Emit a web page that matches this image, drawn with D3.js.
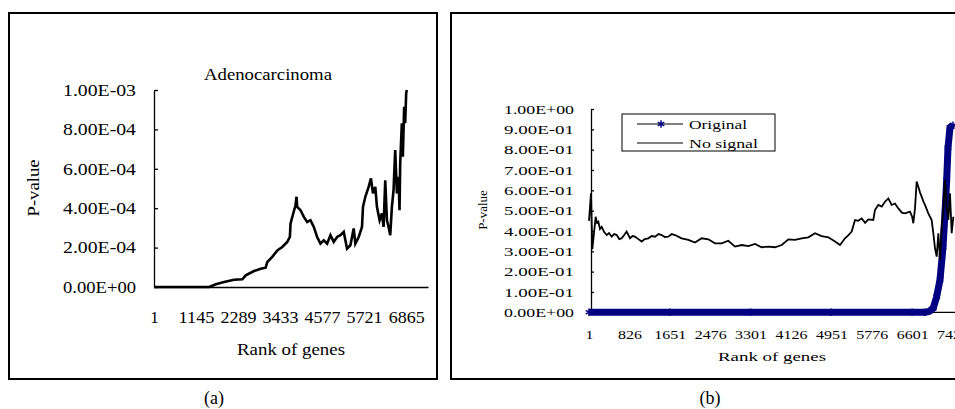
<!DOCTYPE html>
<html><head><meta charset="utf-8">
<script src="https://cdn.jsdelivr.net/npm/d3@7"></script>
<style>
html,body{margin:0;padding:0;background:#fff;}
svg{display:block;}
text{font-family:"Liberation Serif","Times New Roman",serif;fill:#000;}
</style>
</head><body>
<svg id="c" width="955" height="409"></svg>
<script>
// ---------- data ----------
const leftTitle = "Adenocarcinoma";
const xTitle = "Rank of genes";
const yTitle = "P-value";
const captions = ["(a)", "(b)"];
const leftGeneCount = 7460;
const leftXTicks = [1, 1145, 2289, 3433, 4577, 5721, 6865];
const leftYTicks = [0, 0.0002, 0.0004, 0.0006, 0.0008, 0.001];
const leftYLabels = ["0.00E+00", "2.00E-04", "4.00E-04", "6.00E-04", "8.00E-04", "1.00E-03"];
const leftRank = [1,1503,1684,1910,2181,2407,2498,2724,2905,3040,
  3086,3221,3357,3493,3629,3700,3718,3791,3854,3881,
  3899,3990,4080,4171,4261,4351,4442,4532,4623,4713,
  4804,4894,4985,5075,5166,5211,5256,5347,5437,5482,
  5573,5663,5690,5754,5844,5907,5962,6025,6070,6143,
  6206,6251,6296,6342,6387,6432,6477,6522,6567,6613,
  6658,6685,6703,6748,6775,6811,6838,6866,6884];
const leftP = [0,0,0.14e-4,0.25e-4,0.37e-4,0.39e-4,0.59e-4,0.81e-4,0.93e-4,0.98e-4,
  1.27e-4,1.53e-4,1.86e-4,2.03e-4,2.29e-4,2.54e-4,3.22e-4,3.73e-4,4.15e-4,4.58e-4,
  4.07e-4,3.9e-4,3.56e-4,3.3e-4,3.39e-4,3.05e-4,2.54e-4,2.2e-4,2.37e-4,2.2e-4,
  2.63e-4,2.29e-4,2.54e-4,2.63e-4,2.8e-4,2.37e-4,1.95e-4,2.12e-4,2.97e-4,2.2e-4,
  2.54e-4,3.05e-4,4.07e-4,4.58e-4,5.08e-4,5.51e-4,4.75e-4,5.08e-4,4.07e-4,3.39e-4,
  3.73e-4,3.05e-4,5.42e-4,3.39e-4,3.05e-4,2.63e-4,4.07e-4,4.92e-4,6.95e-4,4.75e-4,
  5.59e-4,3.9e-4,6.27e-4,8.31e-4,6.61e-4,9.15e-4,8.31e-4,9.83e-4,10.0e-4];

const rightXTicks = [1, 826, 1651, 2476, 3301, 4126, 4951, 5776, 6601, 7426];
const rightYTicks = [0, 0.1, 0.2, 0.3, 0.4, 0.5, 0.6, 0.7, 0.8, 0.9, 1.0];
const rightYLabels = ["0.00E+00","1.00E-01","2.00E-01","3.00E-01","4.00E-01","5.00E-01",
  "6.00E-01","7.00E-01","8.00E-01","9.00E-01","1.00E+00"];
const legendLabels = ["Original", "No signal"];
const noSignalRank = [1,42,69,103,137,165,192,225,260,310,362,410,464,515,566,620,668,720,770,838,890,940,1010,1076,1140,1213,1280,1349,1420,1485,1550,1621,1690,1757,
  1893,2029,2166,2302,2438,2574,2710,2846,2983,3119,3255,3391,3527,3663,3799,3936,4072,4208,4344,4480,
  4616,4752,4888,5025,5127,5229,5300,5365,5433,5500,5569,5640,5705,5807,5840,5909,5980,6045,6113,6181,6250,6318,6390,6454,6556,6600,6624,
  6658,6692,6726,6760,6794,6830,6862,6930,6998,7032,7067,7101,7135,7169,7203,7237,7271,7305,7339,7373,7407,7441];
const noSignalP = [0.45,0.585,0.31,0.39,0.47,0.44,0.446,0.41,0.42,0.395,0.38,0.39,0.372,0.385,0.38,0.36,0.364,0.38,0.397,0.364,0.375,0.372,0.36,0.348,0.36,0.364,0.375,0.372,0.385,0.38,0.37,0.372,0.385,0.38,
  0.364,0.356,0.343,0.364,0.359,0.339,0.339,0.352,0.323,0.331,0.326,0.336,0.32,0.323,0.32,0.331,0.359,0.356,0.364,0.369,
  0.389,0.375,0.369,0.348,0.331,0.364,0.38,0.397,0.454,0.45,0.462,0.44,0.457,0.454,0.503,0.528,0.52,0.544,0.56,0.528,0.535,0.511,0.49,0.487,0.495,0.47,0.438,
  0.511,0.643,0.618,0.59,0.569,0.545,0.528,0.487,0.454,0.389,0.315,0.274,0.389,0.257,0.42,0.503,0.651,0.52,0.454,0.585,0.389,0.47];
const originalRank = [1, 1650, 3300, 4950, 6600, 6862, 6950, 7030, 7101, 7169, 7230, 7271, 7305, 7332, 7373, 7434];
const originalP = [0, 0, 0, 0, 0, 0, 0.005, 0.02, 0.077, 0.16, 0.32, 0.49, 0.65, 0.81, 0.91, 0.92];

// ---------- drawing ----------
const svg = d3.select("#c");
const NAVY = "#000080";

function label(g, s, x, y, size, opts = {}) {
  const t = g.append("text").attr("x", x).attr("y", y).text(s)
    .style("font-size", size + "px")
    .attr("text-anchor", opts.anchor || "middle");
  if (opts.w) t.attr("textLength", opts.w).attr("lengthAdjust", "spacingAndGlyphs");
  if (opts.rot) t.attr("transform", `rotate(-90 ${x} ${y})`);
  return t;
}

// panel frames
svg.append("rect").attr("x", 9).attr("y", 13).attr("width", 428).attr("height", 366)
  .attr("fill", "none").attr("stroke", "#000").attr("stroke-width", 2);
svg.append("rect").attr("x", 451).attr("y", 13).attr("width", 520).attr("height", 366)
  .attr("fill", "none").attr("stroke", "#000").attr("stroke-width", 2);

// ===== left panel =====
const xL = d3.scaleLinear().domain([1, leftGeneCount]).range([154, 428]);
const yL = d3.scaleLinear().domain([0, 0.001]).range([287, 90]);
const gL = svg.append("g");

const yAxL = gL.append("g").attr("transform", `translate(${xL(1)},0)`)
  .call(d3.axisLeft(yL).tickValues(leftYTicks).tickFormat((d, i) => leftYLabels[i])
    .tickSize(-4).tickSizeOuter(0).tickPadding(18));
yAxL.selectAll("path,line").attr("stroke", "#000").attr("stroke-width", 1.3);
yAxL.selectAll("text").attr("font-family", null).style("font-size", "16.5px")
  .attr("textLength", 73).attr("lengthAdjust", "spacingAndGlyphs");

const xAxL = gL.append("g").attr("transform", `translate(0,${yL(0)})`)
  .call(d3.axisBottom(xL).tickValues(leftXTicks).tickFormat(d3.format("d"))
    .tickSize(0).tickSizeOuter(0).tickPadding(24));
xAxL.selectAll("path").attr("stroke", "#000").attr("stroke-width", 1.3);
xAxL.selectAll("text").attr("font-family", null).style("font-size", "17px")
  .each(function(d) { if (String(d).length > 1) d3.select(this).attr("textLength", 36)
    .attr("lengthAdjust", "spacingAndGlyphs"); });

const leftLine = d3.line().x(d => xL(d[0])).y(d => yL(d[1]));
gL.append("path").datum(d3.zip(leftRank, leftP)).attr("d", leftLine)
  .attr("fill", "none").attr("stroke", "#000").attr("stroke-width", 2.6).attr("stroke-linejoin", "miter");

label(gL, leftTitle, 268, 80, 16.5, { w: 128 });
label(gL, xTitle, 291, 355, 16.5, { w: 108 });
label(gL, yTitle, 39, 188, 16.5, { rot: true, w: 57 });
label(svg, captions[0], 214, 404, 18);

// ===== right panel =====
const xR = d3.scaleLinear().domain([1, 7426]).range([589, 952.6]);
const yR = d3.scaleLinear().domain([0, 1]).range([312.3, 109]);
const gR = svg.append("g");

const yAxR = gR.append("g").attr("transform", `translate(591,0)`)
  .call(d3.axisLeft(yR).tickValues(rightYTicks).tickFormat((d, i) => rightYLabels[i])
    .tickSize(-3).tickSizeOuter(0).tickPadding(17));
yAxR.selectAll("path,line").attr("stroke", "#000").attr("stroke-width", 1.3);
yAxR.selectAll("text").attr("font-family", null).style("font-size", "13px")
  .attr("textLength", 70).attr("lengthAdjust", "spacingAndGlyphs");

// x axis baseline to the image edge
gR.append("line").attr("x1", 591).attr("x2", 960).attr("y1", yR(0)).attr("y2", yR(0))
  .attr("stroke", "#000").attr("stroke-width", 1.3);
const xAxR = gR.append("g").attr("transform", `translate(0,${yR(0)})`)
  .call(d3.axisBottom(xR).tickValues(rightXTicks).tickFormat(d3.format("d"))
    .tickSize(0).tickSizeOuter(0).tickPadding(17));
xAxR.select(".domain").remove();
xAxR.selectAll("text").attr("font-family", null).style("font-size", "13px")
  .each(function(d) { d3.select(this).attr("textLength", String(d).length * 8)
    .attr("lengthAdjust", "spacingAndGlyphs"); });

// Original series (navy band of asterisk markers)
const rLine = d3.line().x(d => xR(d[0])).y(d => yR(d[1]));
const orig = d3.zip(originalRank, originalP);
gR.append("path").datum(orig).attr("d", rLine).attr("fill", "none")
  .attr("stroke", NAVY).attr("stroke-width", 7).attr("stroke-linejoin", "round");
const star = d3.symbol().type(d3.symbolAsterisk).size(40);
gR.selectAll("path.mk").data(orig).join("path").attr("class", "mk")
  .attr("d", star).attr("transform", d => `translate(${xR(d[0])},${yR(d[1])})`)
  .attr("fill", "none").attr("stroke", NAVY).attr("stroke-width", 1.5);

// No signal series
gR.append("path").datum(d3.zip(noSignalRank, noSignalP)).attr("d", rLine)
  .attr("fill", "none").attr("stroke", "#000").attr("stroke-width", 1.8);

// legend
const lg = gR.append("g");
lg.append("rect").attr("x", 622).attr("y", 114).attr("width", 153).attr("height", 37)
  .attr("fill", "#fff").attr("stroke", "#000").attr("stroke-width", 1);
lg.append("line").attr("x1", 637).attr("x2", 683).attr("y1", 124).attr("y2", 124)
  .attr("stroke", "#000").attr("stroke-width", 1);
lg.append("path").attr("d", star).attr("transform", "translate(661,124)")
  .attr("fill", "none").attr("stroke", NAVY).attr("stroke-width", 1.5);
lg.append("line").attr("x1", 637).attr("x2", 683).attr("y1", 143).attr("y2", 143)
  .attr("stroke", "#000").attr("stroke-width", 1);
label(lg, legendLabels[0], 689, 129, 13, { anchor: "start", w: 58 });
label(lg, legendLabels[1], 689, 148, 13, { anchor: "start", w: 69 });

label(gR, xTitle, 772, 361, 13, { w: 108 });
label(gR, yTitle, 487, 210, 13, { rot: true });
label(svg, captions[1], 710, 404, 18);
</script>
</body></html>
